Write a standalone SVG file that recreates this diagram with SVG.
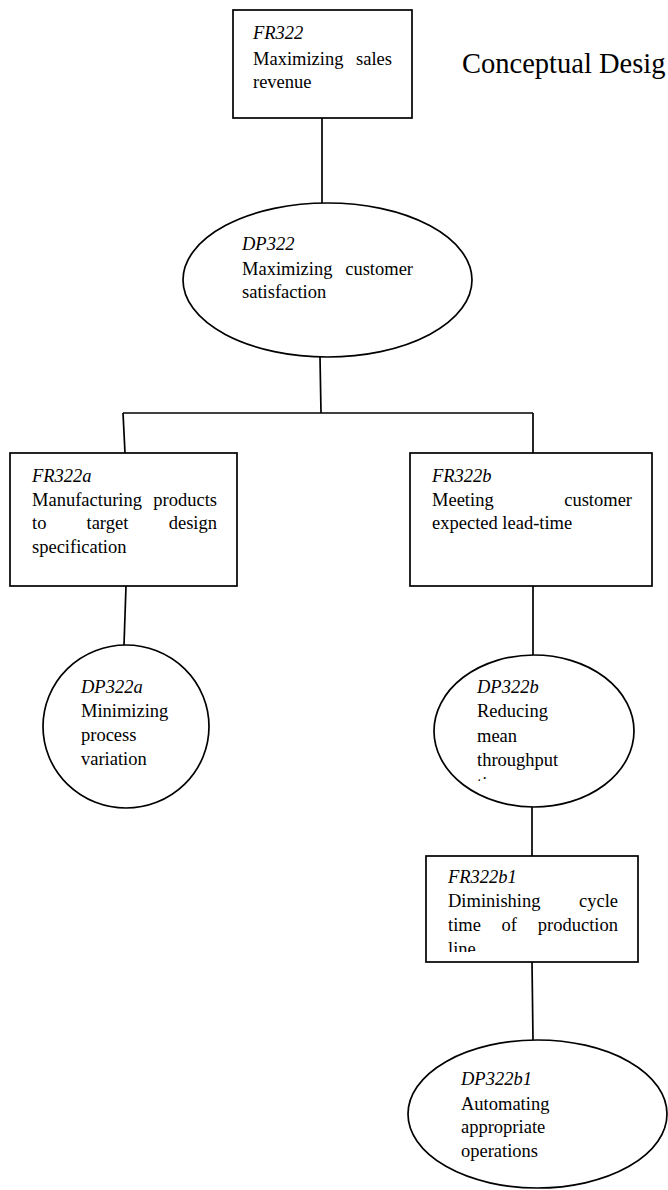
<svg xmlns="http://www.w3.org/2000/svg" width="668" height="1190" viewBox="0 0 668 1190">
  <style>
    .shape { fill: #ffffff; stroke: #000000; stroke-width: 1.7; }
    .wire { fill: none; stroke: #000000; stroke-width: 1.7; }
    .t { font-family: "Liberation Serif", "Times New Roman", serif; font-size: 18.5px; fill: #000000; }
    .id { font-style: italic; }
    .end { text-anchor: end; }
    .title { font-family: "Liberation Serif", "Times New Roman", serif; font-size: 28.5px; fill: #000000; }
  </style>
  <defs>
    <clipPath id="clip-dp322b"><rect x="430" y="640" width="220" height="141"/></clipPath>
    <clipPath id="clip-fr322b1"><rect x="426" y="850" width="220" height="102"/></clipPath>
  </defs>
  <rect width="668" height="1190" fill="#ffffff"/>

  <text class="title" x="462" y="73">Conceptual Desig</text>

  <g id="connectors">
    <line class="wire" x1="322" y1="118" x2="322" y2="203"/>
    <line class="wire" x1="320" y1="357" x2="321" y2="413"/>
    <line class="wire" x1="123" y1="413" x2="533" y2="413"/>
    <line class="wire" x1="123" y1="413" x2="125" y2="453"/>
    <line class="wire" x1="533" y1="413" x2="533" y2="453"/>
    <line class="wire" x1="126" y1="586" x2="124" y2="645"/>
    <line class="wire" x1="533" y1="586" x2="533" y2="655"/>
    <line class="wire" x1="532" y1="807" x2="532" y2="856"/>
    <line class="wire" x1="532" y1="962" x2="533" y2="1040"/>
  </g>

  <g id="FR322">
    <rect class="shape" x="233" y="10" width="179" height="108"/>
    <text class="t id" x="253" y="39">FR322</text>
    <text class="t" y="65"><tspan x="253">Maximizing</tspan><tspan class="end" x="392">sales</tspan></text>
    <text class="t" x="253" y="88">revenue</text>
  </g>

  <g id="DP322">
    <ellipse class="shape" cx="327.5" cy="280" rx="144.5" ry="77"/>
    <text class="t id" x="242" y="250">DP322</text>
    <text class="t" y="275"><tspan x="242">Maximizing</tspan><tspan class="end" x="413">customer</tspan></text>
    <text class="t" x="242" y="298">satisfaction</text>
  </g>

  <g id="FR322a">
    <rect class="shape" x="10" y="453" width="227" height="133"/>
    <text class="t id" x="32" y="482">FR322a</text>
    <text class="t" y="506"><tspan x="32">Manufacturing</tspan><tspan class="end" x="217">products</tspan></text>
    <text class="t" y="529"><tspan x="32">to</tspan><tspan x="86.5">target</tspan><tspan class="end" x="217">design</tspan></text>
    <text class="t" x="32" y="553">specification</text>
  </g>

  <g id="FR322b">
    <rect class="shape" x="410" y="453" width="242" height="133"/>
    <text class="t id" x="432" y="482">FR322b</text>
    <text class="t" y="506"><tspan x="432">Meeting</tspan><tspan class="end" x="632">customer</tspan></text>
    <text class="t" x="432" y="529">expected lead-time</text>
  </g>

  <g id="DP322a">
    <ellipse class="shape" cx="126" cy="726.5" rx="83" ry="81.5"/>
    <text class="t id" x="81" y="693">DP322a</text>
    <text class="t" x="81" y="717">Minimizing</text>
    <text class="t" x="81" y="741">process</text>
    <text class="t" x="81" y="765">variation</text>
  </g>

  <g id="DP322b">
    <ellipse class="shape" cx="534" cy="731" rx="100" ry="76"/>
    <text class="t id" x="477" y="693">DP322b</text>
    <text class="t" x="477" y="717">Reducing</text>
    <text class="t" x="477" y="742">mean</text>
    <text class="t" x="477" y="766">throughput</text>
    <text class="t" x="477" y="790" clip-path="url(#clip-dp322b)">time</text>
  </g>

  <g id="FR322b1">
    <rect class="shape" x="426" y="856" width="212" height="106"/>
    <text class="t id" x="448" y="883">FR322b1</text>
    <text class="t" y="907"><tspan x="448">Diminishing</tspan><tspan class="end" x="618">cycle</tspan></text>
    <text class="t" y="931"><tspan x="448">time</tspan><tspan x="501.5">of</tspan><tspan class="end" x="618">production</tspan></text>
    <text class="t" x="448" y="955" clip-path="url(#clip-fr322b1)">line</text>
  </g>

  <g id="DP322b1">
    <ellipse class="shape" cx="537.5" cy="1114" rx="129.5" ry="74"/>
    <text class="t id" x="461" y="1085">DP322b1</text>
    <text class="t" x="461" y="1110">Automating</text>
    <text class="t" x="461" y="1133">appropriate</text>
    <text class="t" x="461" y="1157">operations</text>
  </g>
</svg>
